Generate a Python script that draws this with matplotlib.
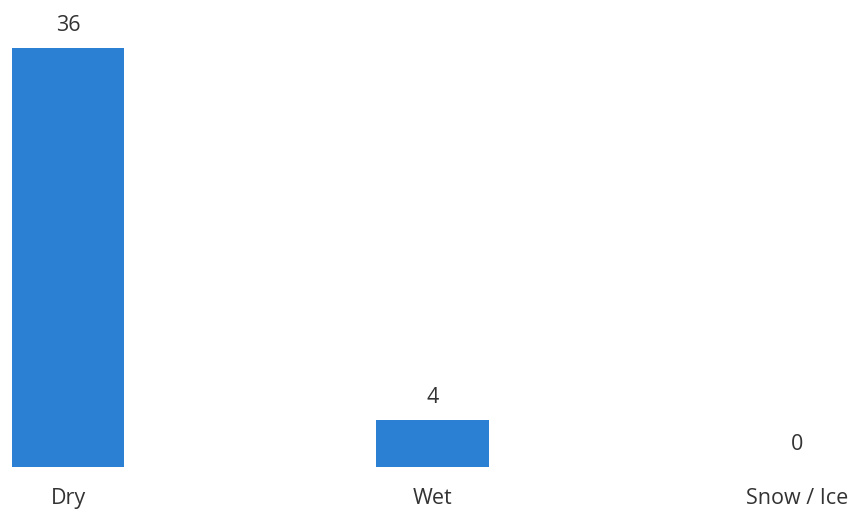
import matplotlib
matplotlib.use("Agg")
import matplotlib.pyplot as plt

categories = ["Dry", "Wet", "Snow / Ice"]
counts = [36, 4, 0]

plt.rcParams["font.family"] = ["Open Sans", "DejaVu Sans"]

fig = plt.figure(figsize=(8.51, 5.12), dpi=100)
# axes from the baseline (y=467px) up near the top of the figure
ax = fig.add_axes([0.0, 45 / 512, 1.0, 457 / 512])

x = list(range(len(categories)))
bars = ax.bar(x, counts, width=0.31, color="#2b80d4")

ax.set_xlim(-68 / 364.5, (851 - 68) / 364.5)
ax.set_ylim(0, 36 + 38 / 11.64)

for xi, v in zip(x, counts):
	ax.annotate(str(v), (xi, v), xytext=(0, 16.5), textcoords="offset points",
				ha="center", va="center", fontsize=15.5, color="#333333")
#end_for

ax.set_xticks(x)
ax.set_xticklabels(categories, fontsize=15.5, color="#333333")
ax.tick_params(axis="x", length=0, pad=15)
ax.set_yticks([])
for s in ax.spines.values():
	s.set_visible(False)
#end_for

fig.savefig("out.png", dpi=100)
